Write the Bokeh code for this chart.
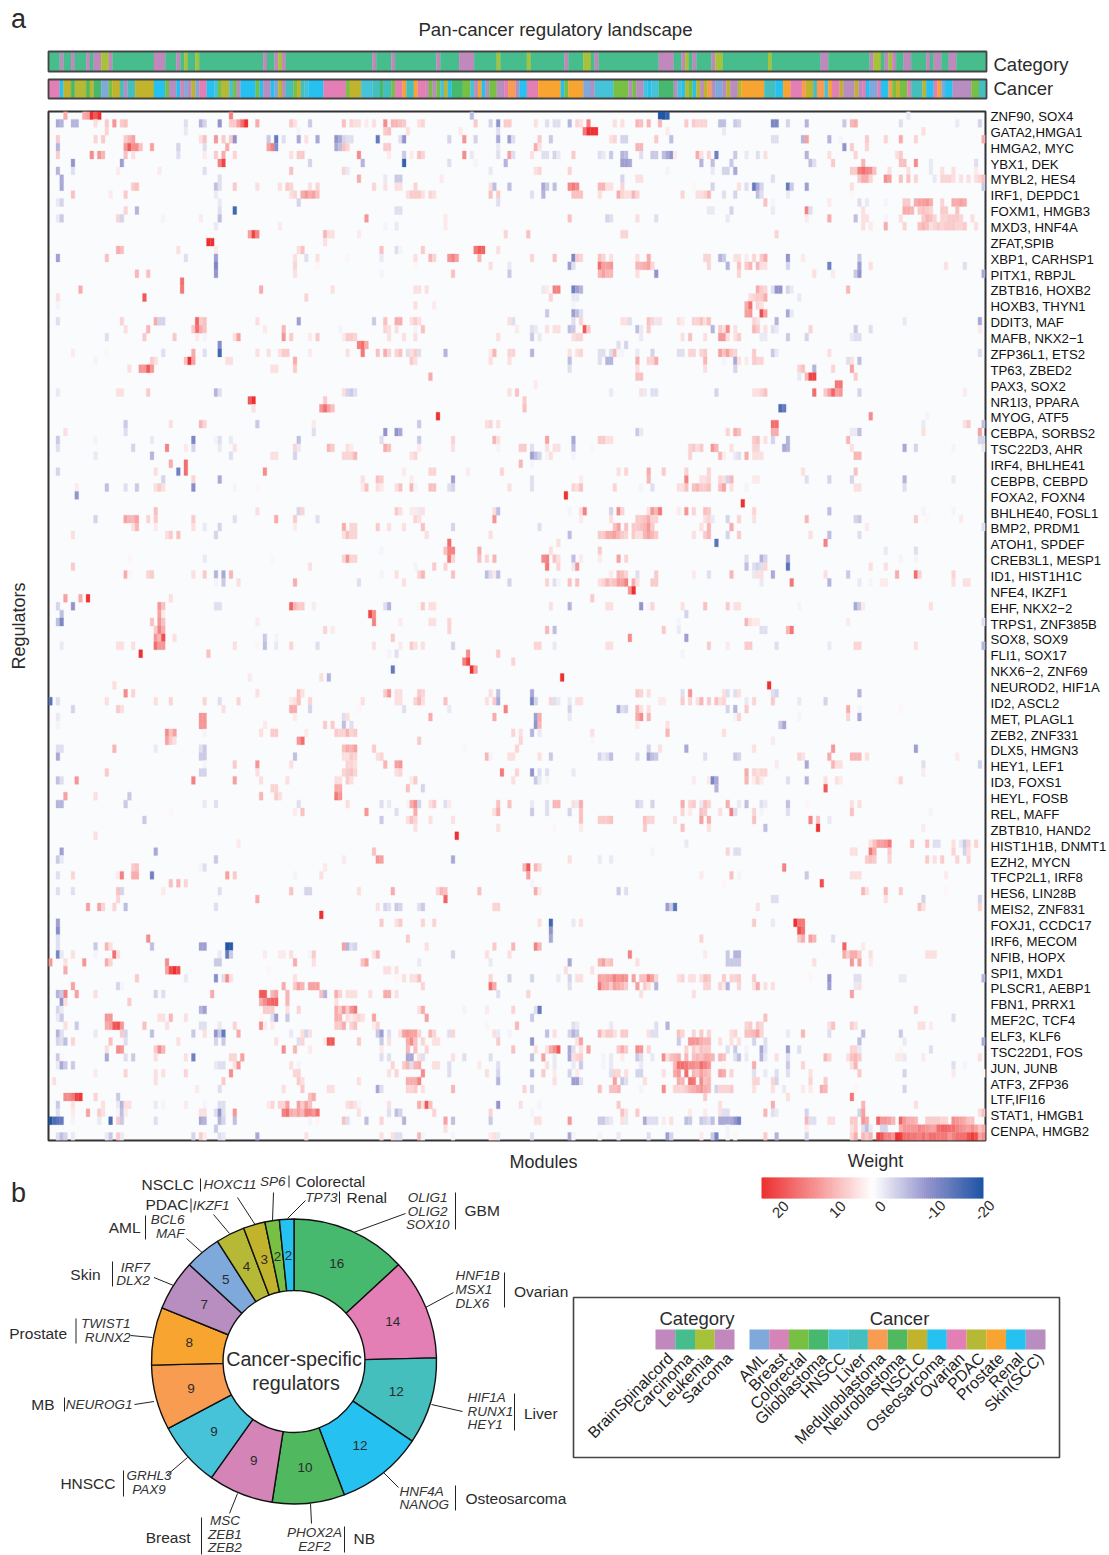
import math
from itertools import groupby
import numpy as np
from bokeh.core.properties import value
from bokeh.embed import file_html
from bokeh.layouts import column
from bokeh.models import ColumnDataSource, FixedTicker, LinearAxis, LinearColorMapper, Range1d
from bokeh.plotting import figure
from bokeh.resources import INLINE

FONT = "Liberation Sans"
INK = "#2b2b2b"
N_COLS, N_ROWS = 249, 130

regulator_labels = ["ZNF90, SOX4","GATA2,HMGA1","HMGA2, MYC","YBX1, DEK","MYBL2, HES4","IRF1, DEPDC1","FOXM1, HMGB3","MXD3, HNF4A","ZFAT,SPIB","XBP1, CARHSP1","PITX1, RBPJL","ZBTB16, HOXB2","HOXB3, THYN1","DDIT3, MAF","MAFB, NKX2−1","ZFP36L1, ETS2","TP63, ZBED2","PAX3, SOX2","NR1I3, PPARA","MYOG, ATF5","CEBPA, SORBS2","TSC22D3, AHR","IRF4, BHLHE41","CEBPB, CEBPD","FOXA2, FOXN4","BHLHE40, FOSL1","BMP2, PRDM1","ATOH1, SPDEF","CREB3L1, MESP1","ID1, HIST1H1C","NFE4, IKZF1","EHF, NKX2−2","TRPS1, ZNF385B","SOX8, SOX9","FLI1, SOX17","NKX6−2, ZNF69","NEUROD2, HIF1A","ID2, ASCL2","MET, PLAGL1","ZEB2, ZNF331","DLX5, HMGN3","HEY1, LEF1","ID3, FOXS1","HEYL, FOSB","REL, MAFF","ZBTB10, HAND2","HIST1H1B, DNMT1","EZH2, MYCN","TFCP2L1, IRF8","HES6, LIN28B","MEIS2, ZNF831","FOXJ1, CCDC17","IRF6, MECOM","NFIB, HOPX","SPI1, MXD1","PLSCR1, AEBP1","FBN1, PRRX1","MEF2C, TCF4","ELF3, KLF6","TSC22D1, FOS","JUN, JUNB","ATF3, ZFP36","LTF,IFI16","STAT1, HMGB1","CENPA, HMGB2"]

category_names = ["BrainSpinalcord","Carcinoma","Leukemia","Sarcoma"]
category_colors = ["#C088BC","#47BC8C","#A6C23B","#C088BC"]
cancer_names = ["AML","Breast","Colorectal","Glioblastoma","HNSCC","Liver","Medulloblastoma","Neuroblastoma","NSCLC","Osteosarcoma","Ovarian","PDAC","Prostate","Renal","Skin(SCC)"]
cancer_colors = ["#7FA8DB","#D484B6","#77C044","#47B96F","#47C3D9","#45BFBE","#F89C52","#50B960","#C2B32C","#25C1F1","#E37FB5","#B6B935","#F8A430","#25C1F1","#B88DBF"]

brain_sarcoma_cols = [3,6,10,12,13,16,28,29,30,34,57,60,62,86,91,103,109,110,111,112,137,145,162,163,164,165,168,171,176,205,206,218,222,224,227,228,233,235,236,239,240]
leukemia_cols = [14,15,36,39,61,119,127,142,143,169,177,178,191,219,220,223]

cancer_runs = [("Ovarian",3),("Osteosarcoma",1),("NSCLC",2),("Glioblastoma",1),("PDAC",3),("Neuroblastoma",1),("NSCLC",1),("Glioblastoma",2),("AML",2),("Colorectal",1),("NSCLC",2),("Liver",1),("Skin(SCC)",1),("Liver",2),("NSCLC",5),("Osteosarcoma",3),("Colorectal",1),("Skin(SCC)",2),("Osteosarcoma",1),("Breast",1),("AML",1),("Skin(SCC)",1),("NSCLC",1),("AML",1),("Ovarian",2),("Osteosarcoma",2),("HNSCC",1),("Colorectal",1),("PDAC",2),("HNSCC",1),("Colorectal",1),("Skin(SCC)",1),("Osteosarcoma",4),("Colorectal",1),("Osteosarcoma",1),("Skin(SCC)",2),("Renal",1),("AML",1),("NSCLC",1),("Skin(SCC)",1),("Liver",2),("Colorectal",1),("NSCLC",1),("Liver",1),("HNSCC",1),("Renal",4),("Ovarian",6),("Colorectal",1),("NSCLC",3),("HNSCC",3),("Liver",2),("Glioblastoma",1),("Liver",2),("Colorectal",1),("Ovarian",2),("Prostate",1),("Liver",2),("Prostate",1),("Ovarian",2),("Breast",1),("Colorectal",1),("Skin(SCC)",1),("Colorectal",1),("HNSCC",1),("NSCLC",1),("Osteosarcoma",1),("Glioblastoma",3),("Colorectal",2),("HNSCC",1),("Skin(SCC)",1),("Prostate",1),("Renal",1),("Skin(SCC)",1),("Colorectal",2),("Skin(SCC)",2),("Ovarian",1),("Medulloblastoma",2),("Skin(SCC)",1),("Osteosarcoma",2),("Ovarian",3),("Prostate",6),("Renal",1),("Colorectal",1),("Prostate",4),("AML",2),("Skin(SCC)",1),("HNSCC",5),("Colorectal",4),("Skin(SCC)",1),("Colorectal",1),("Skin(SCC)",2),("HNSCC",1),("Renal",1),("HNSCC",2),("Glioblastoma",4),("Skin(SCC)",1),("HNSCC",1),("Renal",1),("PDAC",1),("Colorectal",1),("Renal",1),("NSCLC",1),("Skin(SCC)",1),("NSCLC",1),("Medulloblastoma",1),("Skin(SCC)",1),("AML",2),("Skin(SCC)",1),("NSCLC",1),("Skin(SCC)",2),("PDAC",1),("Prostate",6),("Liver",3),("Renal",2),("Prostate",2),("Ovarian",3),("Medulloblastoma",1),("NSCLC",2),("Liver",1),("Medulloblastoma",2),("HNSCC",1),("Prostate",1),("Ovarian",2),("NSCLC",1),("Skin(SCC)",3),("NSCLC",1),("Skin(SCC)",1),("Ovarian",1),("Renal",1),("AML",2),("Ovarian",1),("Renal",2),("Medulloblastoma",1),("Colorectal",1),("NSCLC",1),("Colorectal",2),("Ovarian",1),("Liver",3),("NSCLC",1),("Renal",2),("Ovarian",1),("Prostate",1),("AML",1),("Renal",2),("Skin(SCC)",5),("Colorectal",2),("Liver",2)]

# heatmap weights, one string per regulator row: "column:weight"
weight_rows = [
"4:8 9:8 10:9 11:20 12:16 13:20 48:12 112:-6 162:-20 163:-20 164:-18 228:-2",
"2:-8 3:-7 6:-7 7:-7 12:3 15:5 17:10 19:5 20:6 36:-3 40:-7 41:-4 45:-10 48:5 49:5 50:9 51:14 52:20 55:8 64:5 65:3 69:-5 78:6 80:4 81:3 82:3 84:2 86:3 89:11 91:7 92:7 93:6 94:5 98:3 99:4 113:5 117:-4 119:-10 121:5 122:5 129:3 132:-3 134:-3 135:-3 138:-7 140:4 141:3 143:12 150:3 152:3 156:7 157:6 159:7 162:7 169:5 171:5 172:4 173:4 174:4 178:-6 179:-6 182:-5 183:-4 192:-12 193:-12 196:-4 201:-7 211:-5 213:7 214:8 226:-3 241:-2 247:-4",
"15:4 36:-2 66:-1 89:5 90:6 95:3 109:2 119:-3 142:13 143:20 144:20 145:20 164:2 179:-2 232:3",
"2:5 12:4 14:5 20:5 21:7 22:9 40:3 41:6 44:10 46:5 48:5 49:-10 58:-5 60:-14 62:-3 66:-8 68:3 71:-8 76:-10 77:-8 78:-4 79:-3 80:-3 87:-14 93:-3 94:-10 106:-4 110:10 113:-4 119:-8 122:-9 123:-3 130:5 133:-5 149:3 150:4 152:-4 153:-4 161:5 165:-6 192:-3 193:-3 200:-7 201:9 207:-7 210:-1 217:5 222:4 226:8 230:4 248:8",
"2:-7 20:10 21:16 22:11 23:11 24:6 27:9 34:-4 41:-3 47:8 58:9 59:12 60:-11 76:-8 77:-6 78:6 79:4 89:5 90:5 119:-2 129:8 130:3 156:7 157:7 211:-10 213:5 217:4",
"2:5 11:11 13:10 14:7 20:6 22:3 34:-3 41:2 44:5 46:8 49:4 64:3 66:5 67:5 82:11 90:2 94:-5 96:2 98:6 99:4 110:11 112:-2 119:-3 122:9 123:-3 128:3 131:-3 132:-3 134:-4 135:-2 139:5 146:-3 147:-2 149:-5 152:-7 153:-6 157:-3 160:-5 161:-5 163:-6 164:-8 165:-10 166:2 172:8 173:3 175:4 177:-13 182:-5 185:-2 188:-3 190:3 201:-7 207:3 214:4 225:3 226:5",
"6:-10 19:-9 45:12 46:18 69:-4 83:-7 94:-18 106:-3 113:-1 121:-7 152:-9 153:-9 154:-8 173:-7 176:-6 181:-5 202:-6 203:-3 208:5 216:7 226:6 227:6 230:11 234:-2 246:-3",
"2:-7 6:-3 18:2 29:2 41:-3 64:6 78:4 79:-2 117:-2 129:3 130:4 138:4 164:-1 176:-2 179:-4 180:-4 182:-8 213:5 214:5 215:12 216:14 217:12 218:11 219:6 223:3 228:3 234:-2 237:3 240:3 246:2",
"3:-8 45:-3 82:8 89:-2 92:-5 93:-5 104:2 152:-4 156:3 157:3 192:-3 215:5 216:8 217:8 218:4 222:11 223:9 226:6 228:6 230:4 235:-2 237:4 238:4 239:4 240:3 242:3 244:3 246:3 247:4 248:6",
"3:-8 22:5 23:6 44:-6 45:-3 49:5 55:3 61:3 63:5 64:4 69:3 71:4 86:4 89:3 92:3 93:3 97:4 117:3 118:-6 122:-6 131:-8 132:-5 134:-6 138:11 139:13 140:11 146:7 147:7 148:3 149:3 152:4 171:1 176:-4 183:3 185:-3 187:-14 188:-8 189:-4 196:-14 197:-5 201:-9 213:3 248:-5",
"6:6 16:2 20:5 44:-2 64:3 65:4 67:8 68:10 69:8 70:9 71:6 95:3 96:5 97:5 98:5 99:3 101:4 102:3 117:6 119:5 128:-3 131:-7 139:6 140:6 141:6 146:3 151:8 152:4 153:3 154:3 155:7 156:4 168:4 172:3 173:3 174:4 175:7 179:-3 182:-4 188:-6 189:-3 196:-2 213:1",
"2:-2 3:-4 45:-2 66:-4 119:-3 190:6 192:-1 207:2 215:-3 217:-2 222:-1 227:5 228:5 230:8 231:9 232:9 233:10 234:8 237:4 240:8 241:8 242:9 243:8",
"20:4 23:-7 45:-3 49:-17 92:-3 93:-3 175:-2 176:-2 181:-4 192:-2 201:12 202:-3 216:3 227:8 228:8 229:7 231:5 232:6 233:5 234:4 237:5 238:5 241:6",
"2:-2 3:-5 18:4 19:-4 30:-1 40:2 45:-6 84:10 105:2 138:6 148:-4 149:-3 156:3 161:-3 180:-2 201:2 207:8 214:-6 216:3 217:3 222:-1 226:3 232:5 233:7 234:6 235:4 237:4 238:4 239:5 240:5 241:5 242:4 245:3",
"44:-2 61:2 89:-1 92:-2 105:2 216:3 218:2 222:8 227:4 231:6 232:7 233:6 234:3 235:4 236:5 237:4 238:5 239:5 240:5 241:4 242:4 243:5 246:3",
"53:9 54:18 55:12 73:7 74:3 75:3 82:2 121:4 127:6 152:4 153:4 193:4",
"42:20 43:20 73:3",
"18:8 19:6 34:3 44:2 66:3 67:6 88:6 92:-3 93:-1 99:5 113:13 114:16 115:15 119:3",
"2:-9 15:6 36:-3 44:-9 65:3 68:-3 71:3 79:1 88:-2 97:3 101:7 102:4 106:10 107:12 108:9 114:7 128:4 134:6 139:-12 140:5 141:4 146:6 147:4 149:3 156:3 159:8 174:4 175:4 178:-7 179:-5 182:3 183:3 185:2 187:4 189:5 190:8 196:-10 200:2 215:-5",
"44:-12 65:4 71:1 97:1 117:3 122:-2 138:-9 139:-3 146:14 147:9 148:9 149:10 156:7 157:7 158:8 159:9 160:4 175:4 180:-7 183:6 185:5 186:7 188:7 189:3 190:3 196:-4 207:-13 215:-9 218:3 238:3 243:-3",
"23:7 26:6 44:-10 65:3 88:-1 107:6 122:-5 146:7 147:9 148:7 149:7 156:3 161:-10 183:4 203:3 208:2 214:-5 215:-10 248:-8",
"35:14",
"8:8 35:13 56:8 75:3 97:3 98:3 100:3 131:-2 132:2 134:12 135:12 139:-13 140:-9 141:-7 188:8 189:5 190:4 192:-3 193:-10 194:-10 196:-4 197:-2 212:7",
"2:3 25:16 68:4 133:4 139:-2 140:-2 186:3 187:4 188:5 189:5 190:8 199:-2",
"2:-1 97:3 102:2 139:-1 185:8 186:14 188:4 189:3",
"132:-5 139:-9 140:-6 141:-3 185:9 186:10 189:17 190:9 196:-8 197:-2",
"2:-3 19:4 28:8 29:-4 30:-4 39:15 40:5 41:6 55:3 66:-9 86:-5 89:6 92:8 93:8 96:3 97:5 98:3 122:3 123:-3 139:-3 141:4 152:3 153:3 154:-3 159:6 160:4 161:-2 162:3 167:3 168:2 171:4 172:4 173:6 174:3 175:6 187:4 188:3 193:-7 227:-2 247:-8",
"20:3 26:7 38:5 39:14 40:8 41:6 57:2 62:7 77:-1 89:4 90:3 92:3 97:-1 99:6 124:2 128:-3 129:-2 132:3 134:3 135:3 138:-6 139:-5 142:16 143:5 156:-6 157:-2 159:5 176:-7 178:5 179:3 180:11 182:3 187:7 188:5 190:3 192:-3 193:-2 202:4 214:-5 218:-3 247:2",
"15:-3 25:5 33:5 39:2 41:-1 49:3 50:9 62:10 64:5 69:2 71:5 78:2 79:5 80:5 81:4 90:3 94:3 97:3 119:3 128:-5 130:-2 139:3 140:4 141:4 157:-2 168:3 170:6 174:3 178:10 179:10 180:3 182:3 183:5 189:-2 190:-2 196:-5 201:-4 213:-2 214:-3 215:-3",
"45:-11 82:12 83:14 84:8 151:-3 153:-4",
"6:2 15:1 30:-3 38:8 41:-3 45:-17 55:3 58:3 61:3 62:5 63:5 69:2 79:3 83:13 87:6 89:8 90:4 92:4 93:6 95:-3 96:3 97:5 98:-3 105:-7 117:2 118:7 122:4 123:4 128:-7 138:3 140:3 141:4 146:-3 147:-3 149:-3 150:7 151:-1 152:-1 156:-2 160:-4 167:-3 168:-3 170:4 171:4 173:4 174:5 178:9 179:6 180:9 181:5 182:4 187:5 192:-5 193:-2 207:3 247:-3",
"12:-1 27:5 28:3 36:6 37:20 38:9 47:3 48:3 65:8 96:5 97:3 117:3 122:3 138:-6 146:-3 148:-7 149:-7 156:8 159:4 160:4 161:8 174:7 179:-1 182:-8 183:3 185:2 187:5 188:4 189:4 212:-3 213:3 215:-6",
"21:3 24:10 25:10 26:16 27:10 59:3 60:3 65:5 138:-3 156:3 174:3 182:-4 199:4 200:6 203:-7 208:4 213:9",
"101:8 156:6 157:6 199:-2 201:7 202:18 203:18 214:5",
"129:2 209:13 210:13",
"2:-2 18:3 19:3 26:5 44:-7 45:-3 78:3 79:-4 80:-5 81:-3 122:3 124:6 149:-2 157:3 158:-2 160:-3 161:-3 177:-4 187:3 188:3 189:4 190:6 203:14 206:5 207:9 208:15 209:9 210:10 215:-4 243:2",
"53:16 54:20 73:5 126:5",
"54:3 72:10 73:14 74:9 75:6 126:6 194:-16 195:-14",
"103:20 218:11 233:-1",
"20:-5 32:3 40:7 41:4 55:-5 70:2 98:-5 116:3 117:4 119:3 192:14 193:14 232:-2 243:3 244:5 248:-6",
"4:3 20:-3 70:-3 89:-10 92:-10 93:-8 156:-5 157:-2 180:4 182:8 183:6 192:8 193:8 213:-2 214:-2 215:-6 232:3 247:9",
"2:-5 12:-1 27:-2 38:-12 44:-1 45:-3 48:-2 66:-6 88:-3 98:-5 107:4 118:7 119:3 132:9 139:-8 146:5 147:5 148:3 149:3 187:5 188:6 190:3 192:-4 196:-7 212:7 247:-4 248:-4",
"2:-3 22:-4 31:12 36:2 38:-4 45:-2 49:3 65:4 66:-2 74:7 75:5 79:3 80:2 89:8 90:6 98:2 107:3 119:-1 125:5 126:5 128:-3 132:3 134:3 135:3 139:-6 144:1 170:4 171:5 172:3 173:5 176:10 177:7 181:3 187:4 188:4 195:-8 196:-7 213:3 227:-8 230:-4 240:-1 248:-2",
"12:-2 27:-7 48:-3 59:3 60:3 65:-4 78:4 79:4 80:4 81:7 96:3 97:4 128:-9 129:-6 130:-4 132:-1 133:3 139:-1 170:4 178:7 179:2 182:-2 183:-3 185:8 187:3 188:3 189:3 214:7 215:7",
"32:8 36:14 125:7 128:-1",
"2:-4 28:3 34:-13 36:14 57:11 94:2 101:4 102:4 111:2 120:4 151:3 153:4 159:8 163:5 169:4 175:4 200:3 214:6",
"30:-4 38:4 45:-8 83:3 87:6 88:5 96:2 107:-9 128:-3 141:2 159:7 169:12 173:3 174:3 175:4 178:4 179:3 180:-4 181:7 187:2 188:2 201:-3 207:-4 213:-4 227:-7 240:-2",
"7:2 15:-6 20:-3 23:-5 28:3 29:5 30:3 38:-11 49:-1 55:1 83:2 84:6 87:3 88:2 92:3 93:6 96:7 97:-1 101:6 102:6 106:-3 107:-4 122:3 128:-3 139:4 140:3 141:6 150:4 157:-1 160:-3 167:3 168:3 169:6 171:6 172:7 173:5 174:5 175:6 178:6 179:9 181:3 185:-1 214:3 215:3 227:-3",
"7:-10 137:20",
"184:20",
"28:6 55:3 66:-4 67:4 92:5 93:3 96:2 97:2 98:-2 99:3 118:3 119:-6 138:-1 141:3 142:12 149:-4 151:11 152:4 159:3 160:10 161:7 162:13 167:2 169:10 171:4 174:6 175:5 187:4 207:-6 232:-1 240:-1",
"12:-4 20:9 21:7 22:7 23:9 26:4 28:5 38:5 49:-3 60:8 65:5 71:-3 97:4 98:3 118:10 141:2 149:3 156:5 157:5 158:6 159:8 160:4 161:4 174:3 175:4 176:-2 180:-4 183:4 187:3 201:7 214:-4 215:-5 230:5 233:1 242:2",
"22:3 23:7 28:2 38:3 41:-2 45:-4 65:2 78:8 80:4 81:4 87:5 90:3 94:3 99:6 107:-4 130:-3 150:6 151:9 153:6 155:5 156:5 157:6 158:7 159:10 160:5 173:3 175:7 181:8 217:2 248:-3",
"6:3 31:3 32:5 34:6 44:-4 78:3 79:6 80:4 81:4 100:3 117:3 138:-6 146:5 147:5 148:8 149:8 150:9 151:7 152:5 153:4 155:5 156:3 157:3 158:7 159:9 160:7 161:5 171:3 174:5 175:7 180:-4 183:5 202:3 207:-6 215:-3",
"106:14 135:3 177:-15 206:12",
"88:-1 105:6 106:12 107:12 114:8 133:3 146:5 222:-2 230:-3",
"21:1 41:-2 59:1 78:4 79:10 80:4 81:4 106:13 107:4 114:6 116:4 118:7 131:11 132:12 134:6 135:3 139:-6 141:2 146:2 151:9 153:4 185:-3 189:-7 190:-4 196:-8 226:-1 230:-1",
"6:5 69:3 97:-1 102:5 105:4 132:13 135:4 139:-2 140:10 185:-6 187:-3 188:-4 189:-3 190:4 196:-15 218:3 222:3",
"20:8 21:1 26:4 27:5 38:3 41:5 44:-7 46:-8 48:7 88:-1 92:3 98:4 99:7 107:6 116:-6 117:-3 118:2 119:-6 149:2 151:7 152:6 153:4 156:-3 161:5 171:2 175:-3 181:7 187:-2 188:3 189:3 192:-8 206:3 212:-5 225:8 230:14 231:4 240:4",
"44:-1 46:-5 50:3 65:8 82:-3 94:3 122:-4 132:4 134:-3 135:-1 138:6 140:6 146:3 147:4 148:7 149:5 150:6 151:9 152:9 153:12 155:8 156:3 160:5 161:5 189:-2 197:13 207:-7 215:-2 218:-1 221:2 222:2 240:3 243:3 244:3",
"154:10 155:20",
"4:9 8:8 10:20 32:3 144:5",
"2:-4 6:-10 29:10 30:6 44:-3 45:-3 64:15 65:7 66:5 67:5 70:2 89:-3 90:-7 98:1 99:5 101:3 102:3 133:3 138:-7 148:3 149:3 157:-10 159:-1 160:4 168:3 174:6 180:5 182:3 183:3 199:-1 214:-8 215:-5 216:2 234:3",
"3:-6 29:9 30:2 85:18 86:11 169:-4",
"2:-6 3:-12 27:6 29:10 30:6 55:2 86:12 93:2 101:3 102:3 106:4 167:-1 185:7 186:3 187:2 188:2 212:2 248:-3",
"28:5 29:12 30:8 73:4 75:2 106:4 132:7 134:-6 163:5 167:-2 189:-3 190:-3 196:7 197:13",
"28:10 29:7 30:17 33:3 57:-5 60:-1 91:5 154:11 169:-9",
"3:-2 18:3 19:3 22:3 28:14 29:10 30:10 49:3 55:1 57:-6 60:-2 64:4 71:-3 86:3 93:2 96:5 97:3 99:3 107:-4 129:4 130:4 134:-2 148:3 149:3 175:5 180:2 185:5 186:5 193:-3 207:-2 214:4 215:4 230:3 248:-7",
"24:20 42:6 90:-1 92:-3 111:11 119:5 168:-1",
"110:12 111:18 123:4",
"91:-14 112:20 113:9",
"53:2 72:3 74:-7 136:20",
"17:3 191:20",
"20:11 22:4 55:3 66:6 67:3 89:5 90:10 92:3 93:3 98:5 99:4 117:3 119:-6 128:-8 156:5 157:4 159:3 168:-3 170:10 179:3 180:-3 182:-3 183:3 192:-3 193:-4 215:-7",
"0:-15 2:-3 15:3 28:3 32:4 41:4 45:-3 50:4 64:2 65:3 66:6 69:4 83:3 92:3 93:3 97:4 98:7 99:3 105:6 116:3 118:5 119:-8 128:-12 129:-4 133:4 134:-3 135:-2 138:-2 140:3 141:3 162:2 163:2 168:5 170:4 172:3 173:7 175:5 177:6 178:3 179:4 185:-2 187:4 192:5 199:-2 206:-4",
"6:-4 18:5 19:3 46:3 64:8 65:8 69:-4 82:1 94:-3 106:-2 121:12 138:-4 151:-8 152:-3 153:-4 156:7 157:3 159:3 180:-4 182:-7 185:5 212:8 215:-1 226:1",
"2:-2 40:10 41:10 65:2 78:-3 79:3 101:8 118:8 129:-9 130:8 138:-2 156:8 157:11 159:7 182:-1 183:4 199:-1 212:4 215:-8",
"2:-1 40:10 41:10 57:2 73:5 75:5 78:-6 80:-3 129:-10 130:7 156:2 164:3 194:-5 195:-8",
"31:11 32:6 33:9 41:-1 56:3 59:5 60:5 68:2 76:5 77:4 78:4 79:7 80:4 81:5 123:4 125:3 128:-7 130:-2 144:3 164:7 179:3",
"31:9 32:5 33:3 66:10 67:14 98:5 125:4 144:1 192:2",
"2:-3 3:-3 17:7 28:-2 40:-3 41:-5 78:6 79:8 80:7 81:9 86:5 110:1 124:4 159:-4 162:3 169:-8 187:3 208:10 230:-9",
"2:-8 40:-5 41:-5 65:-6 78:3 79:3 80:5 81:4 87:3 88:4 116:7 117:-1 122:3 123:3 130:3 133:-5 146:-4 147:-2 148:-3 149:-6 156:-3 159:-9 160:-6 161:-5 174:-3 182:-5 183:-4 199:4 200:3 207:8 213:7 214:7 215:7 217:3 241:2",
"41:-1 49:5 55:10 64:3 79:4 80:4 81:3 89:7 92:9 93:10 193:2 201:-8 208:7 209:3 210:3 232:-3 247:-4",
"15:5 40:-4 41:-4 55:3 78:4 79:5 80:6 81:4 92:3 93:4 120:13 124:4 128:-10 130:-3 132:-3 139:-2 185:8 187:4 188:3 189:4 190:4 232:2",
"2:-6 3:-3 7:10 38:12 49:9 56:3 63:3 76:3 77:3 79:5 80:3 96:2 97:5 123:3 129:-5 130:-2 132:-1 171:2 175:2 176:-12 177:-8 185:7 187:2 188:4 189:2 196:-3 201:-7 206:3 209:3 210:2 225:1 226:4",
"59:4 60:4 76:8 77:8 95:6 99:-4 177:-7 206:16",
"4:9 12:3 21:-5 56:7 60:5 61:3 76:13 77:10",
"2:-7 3:-7 20:-5 41:-2 44:-3 66:-3 79:3 88:-3 90:-2 95:-1 96:8 97:11 98:-4 101:3 102:5 105:-3 106:2 119:6 122:6 128:-2 132:-3 134:7 135:7 139:3 140:-2 141:8 156:-4 157:-3 160:-4 168:8 170:4 171:5 173:-2 174:6 175:4 180:8 183:-2 185:-6 189:-3 190:-2 196:-6 201:1 213:3 215:3",
"32:1 65:2 67:6 84:10 92:-3 97:8 118:3 119:8 128:-5 132:-3 138:-4 141:6 168:4 170:2 173:6 174:5 178:3 181:12 182:-3 187:4 189:-1 196:-3 213:6 234:-1",
"25:-5 88:-5 95:3 96:6 97:4 101:3 107:3 141:6 146:5 147:5 148:5 149:6 158:6 159:4 160:4 166:3 173:9 175:8 187:6 202:12 204:6 207:-2",
"97:3 119:3 134:1 141:2 158:5 168:6 175:3 190:-6 204:20 232:2",
"12:3 108:20",
"50:2 169:-2 218:3 219:6 220:9 221:9 222:10 223:13 229:6 233:6 235:-3 236:-3 240:3 242:-2 243:-5 244:4 246:4",
"3:-9 28:-8 86:6 160:-1 180:4 182:-3 183:-3 213:3 214:3 218:13 219:8 223:5 240:4 243:-4 244:3",
"2:-5 3:-2 44:-5 78:2 87:10 88:9 107:-8 138:3 146:-2 149:-2 217:5 218:6 219:5 223:4 233:5 235:3 237:5 241:4 244:4",
"22:5 23:6 40:-1 41:-3 73:2 126:7 127:16 129:7 130:4 195:12",
"2:-3 6:4 18:2 19:12 22:8 23:8 27:-13 47:9 49:5 65:-1 72:3 127:9 173:2 181:6 183:-1 201:-5 213:3 214:3 215:3 238:2",
"32:6 34:7 36:4 128:-1 179:1 205:17",
"2:-3 6:-3 18:6 19:-4 30:2 45:-3 64:6 68:-4 69:-4 82:3 91:8 103:4 104:7 105:6 114:6 129:8 130:2 151:-5 153:-3 216:7 217:3 222:7 226:5 238:1",
"18:4 55:8 105:15 192:-3 193:-3 222:3 232:-4 247:-4",
"10:9 13:9 14:4 17:4 20:-6 44:-3 87:3 89:-4 90:-3 92:-5 93:-4 98:-3 99:-5 118:4 119:4 164:-9 165:-5 166:-15 188:3 231:6 232:3 247:4",
"72:20",
"2:-9 88:5 92:3 93:5 99:4 102:4 130:3 133:-17 139:-2 141:3 187:5 192:-2 198:20 199:13 200:13",
"2:-11 133:-10 199:17 200:14",
"2:-3 26:11 95:5 133:-8 173:4 199:5 200:8 202:9 203:7 208:-3",
"2:-3 12:-5 15:7 16:3 27:-6 40:-9 41:-9 47:-20 48:-19 78:9 79:-7 80:-3 81:-4 100:3 118:5 123:7 129:12 130:7 211:15 216:2",
"2:-12 3:-2 6:3 12:-1 17:14 18:3 45:-2 47:-14 48:-5 57:2 61:2 62:2 64:3 69:-1 70:5 86:3 87:7 107:-4 116:3 122:3 154:12 174:2 180:-5 182:-7 183:-7 211:8 212:5 213:8 214:8 215:5 218:3 233:3 234:3 235:3",
"0:10 4:3 9:10 15:8 16:4 31:11 44:-5 45:-5 65:8 70:3 83:6 84:9 98:-2 117:-2 138:-8 146:7 147:9 148:5 149:6 156:3 180:-5 181:-5 182:-5 183:-5 203:3 213:10 215:9 218:2",
"4:8 31:9 32:17 33:20 34:17 58:1 89:3 90:3 92:3 137:3 144:3",
"23:5 36:-2 44:-11 46:-3 47:11 48:3 65:3 92:1 94:3 96:3 97:3 98:6 117:4 122:-4 128:-4 135:-2 138:-4 140:3 141:3 146:9 147:8 148:9 149:9 150:12 151:10 152:11 153:10 155:9 157:6 158:6 159:12 160:9 161:4 167:3 168:4 170:3 171:3 173:3 174:6 175:5 179:5 181:4 182:4 183:5 187:5 202:1 207:-10 214:-3 215:-3 226:-2 227:-2 248:-7",
"6:9 18:-4 19:-1 62:8 65:5 66:9 67:7 69:9 70:9 71:9 99:4 117:14 118:8 138:-3 146:13 147:8 148:8 149:5 150:9 151:8 152:7 153:5 156:9 158:5 159:3 161:-7 174:4 175:4 178:4 179:2 180:-7 183:4 187:3 188:8 190:3 192:3 207:-9 214:-2 215:3",
"2:-7 3:-5 4:12 7:9 12:3 28:-4 30:-3 43:8 56:16 57:16 59:7 60:9 63:7 72:6 73:-7 76:8 77:4 79:3 80:3 81:3 85:3 89:8 90:8 92:3 119:-3 127:4 157:3 171:3 213:9",
"3:-10 4:3 21:5 56:8 57:11 58:14 59:15 60:15 63:7 76:3",
"2:-4 3:-2 40:-7 41:-9 57:5 58:5 59:5 63:3 66:4 76:8 77:5 78:10 79:5 80:10 81:13 98:3 99:8 110:-1 116:2 123:4 129:-3 130:-14 230:4",
"2:-2 3:-5 15:10 16:10 29:3 30:3 32:7 36:3 56:1 59:-3 60:-9 63:-5 76:8 77:7 79:3 80:2 81:3 82:4 83:3 86:9 100:9 128:-5 190:6 240:-3",
"4:3 7:-5 15:8 16:9 17:16 18:17 19:10 25:6 31:3 40:-3 41:-3 45:-2 49:4 56:11 57:2 59:2 76:5 77:5 78:8 80:4 81:6 86:2 87:4 116:1 124:7 139:-3 140:-2 149:-2 161:-3 164:-7 185:4 186:5 188:5 189:4 207:3 208:6 213:5 214:3 231:3 232:3 234:2",
"2:-7 3:-3 12:-2 19:5 20:-4 27:-6 38:-5 41:3 44:-10 45:-5 46:-14 50:8 64:-2 67:3 68:-4 69:3 87:-5 88:-9 90:-3 93:3 94:9 95:10 96:9 97:9 98:4 101:7 102:4 106:-3 107:4 118:3 119:-2 122:-1 132:-6 134:3 138:-4 139:-7 140:-5 146:7 147:3 148:5 149:5 150:3 152:5 153:5 159:3 160:-3 161:-3 167:6 168:4 171:4 173:5 175:4 181:3 182:4 185:6 186:6 187:7 188:9 189:4 196:-2 200:7 207:-3 216:-6 226:-5",
"2:-4 3:-3 4:-6 6:4 16:6 20:-3 34:3 44:-4 46:-5 60:3 66:-3 67:4 73:2 74:16 75:16 82:5 88:-5 90:3 95:8 96:11 97:6 99:4 102:3 103:3 119:5 128:-10 140:3 141:9 167:-5 170:10 171:10 172:10 173:8 174:7 175:7 178:3 181:3 183:3 187:-4 190:-3 215:-6 227:-2 248:-8",
"15:3 18:11 19:10 28:5 29:11 30:7 62:11 65:7 69:2 88:2 95:7 97:6 100:4 123:6 129:3 132:3 133:8 134:11 135:16 138:-8 139:-3 141:3 143:9 151:5 152:8 153:5 156:11 157:10 159:4 169:4 171:5 172:3 173:6 174:5 175:5 180:-3 182:-5 185:-1 189:-8 190:-3 196:-9 199:-3 213:4 214:4 215:-2 226:1 234:-3",
"2:-5 3:1 15:-8 20:-3 22:-5 28:3 36:3 38:-13 48:4 49:4 51:9 88:-3 90:-3 95:-8 96:-8 98:3 99:-3 107:3 110:-3 117:-3 128:-6 131:9 134:-2 138:-8 139:3 140:4 141:5 147:-1 149:-2 152:2 156:-5 157:-3 160:-2 163:11 164:3 165:6 166:7 167:8 169:7 171:6 172:7 173:6 174:8 175:8 176:7 178:7 179:6 182:-3 183:-6 185:-2 189:-7 190:-2 193:3 196:-3 206:7 207:4 212:3 213:6 214:7 215:5 225:2 226:2 227:-2 232:2 247:3",
"2:-2 3:-8 4:-5 6:-5 44:-2 45:-3 46:-3 49:3 50:10 64:3 66:-1 91:4 94:5 95:7 96:-3 97:7 98:8 102:3 103:3 106:-3 114:2 119:-3 132:3 134:-2 139:-2 141:-5 147:-1 149:-2 157:-2 166:7 167:14 168:14 169:13 170:11 171:11 172:10 173:14 174:12 175:10 179:1 187:8 196:-5 200:4 213:3 214:7 240:-3 243:-1",
"12:2 20:4 28:3 30:3 36:4 48:11 65:4 66:4 90:3 92:4 99:11 106:-3 116:3 119:-4 128:-7 131:5 134:2 138:-4 140:2 149:-3 150:4 151:4 153:3 156:-4 157:-4 163:3 166:8 167:10 169:14 171:7 172:6 173:9 174:7 175:6 178:9 179:8 181:4 187:-3 190:-2 193:-3 196:-3 202:3 215:5 227:-4 240:2 248:1",
"1:3 28:3 46:5 66:5 67:3 82:3 95:8 96:8 97:8 98:12 119:-7 134:3 139:-9 140:-9 141:-3 150:9 152:-5 153:-3 158:3 167:8 168:7 170:14 171:13 173:11 174:6 175:7 187:4 188:4 192:4 193:-4 202:4 206:5",
"39:2 45:-3 62:3 67:5 74:3 75:3 87:-8 88:-3 95:4 96:4 97:5 99:3 107:7 126:4 128:-4 146:6 149:6 150:6 151:7 157:-1 163:11 166:4 167:4 168:4 169:5 170:7 171:8 172:9 173:10 174:8 175:7 177:-4 178:4 179:4 180:4 181:5 187:3 192:3 195:-2 200:2 202:2 205:8 206:7 214:1 227:-4",
"4:11 5:11 6:13 7:18 8:19 12:4 18:-5 69:6 70:8 174:5 196:3 213:13",
"2:-5 6:3 14:3 18:-2 19:-7 20:3 21:3 28:-2 30:-1 36:2 41:-1 45:-3 46:-3 58:2 59:4 61:4 62:4 63:9 66:9 67:5 68:9 69:6 79:3 80:4 81:3 82:-1 90:3 98:8 99:3 100:16 101:6 119:-10 125:3 130:-1 151:5 178:3 192:8 216:7 230:3",
"2:-3 6:2 10:9 13:5 14:3 18:-1 19:-6 20:2 40:3 41:3 44:-3 45:-10 46:-3 49:10 62:12 63:14 64:8 65:7 66:9 67:7 68:12 69:12 70:10 71:14 82:3 90:-3 92:-6 93:-4 102:4 117:4 128:-1 152:6 153:3 156:5 170:2 174:2 178:3 179:-3 180:-3 190:7 192:-3 193:-2 201:-4 215:-4 216:9 247:3 248:6",
"0:-20 1:-16 2:-15 3:-14 6:-1 13:-2 16:-16 18:5 19:-5 28:-3 40:-8 41:-7 45:-7 46:-4 49:-6 69:-1 71:1 78:6 79:-3 84:-6 88:4 94:-7 105:9 107:-6 117:-5 129:3 130:3 138:10 146:-5 147:-5 148:-3 149:-2 152:3 153:-2 158:-8 159:-3 160:-3 161:-3 163:2 165:3 169:-6 170:-5 173:-5 174:-4 175:-3 176:-6 178:-8 179:-8 180:-8 181:-8 182:-10 183:-13 201:7 202:-3 203:-3 207:3 208:3 213:5 214:5 216:10 217:8 220:15 221:10 222:10 223:9 224:7 226:15 227:10 228:8 229:8 230:7 233:5 234:5 235:5 236:5 237:4 238:4 240:11 241:10 242:9 243:8 244:6 245:6",
"44:-5 105:3 180:-1 201:2 213:3 214:5 216:-3 217:-6 218:-2 221:-4 222:-4 226:8 227:10 228:10 229:10 230:10 231:12 232:11 233:10 234:9 235:9 236:14 237:15 238:15 239:14 240:14 241:12 242:11 243:10 244:9 245:11 246:9 247:6 248:8",
"2:-3 3:-6 4:-4 6:-2 15:-2 16:-5 18:5 19:-2 38:-4 40:5 41:2 45:-3 46:-2 55:-8 68:3 88:3 91:3 92:-3 93:-3 98:7 99:-1 107:-1 117:2 118:3 119:-2 128:-3 138:-8 139:-1 146:-1 151:-2 159:-3 164:-9 165:-4 173:2 176:-5 177:-12 180:-1 182:1 190:5 193:-7 201:-4 213:4 214:8 216:7 217:5 218:7 220:18 221:16 222:12 223:12 224:10 225:20 226:19 227:14 228:14 229:13 230:13 231:12 232:14 233:12 234:14 235:14 236:13 237:13 238:13 239:10 240:12 241:14 242:14 243:14 244:17 245:19 246:17 247:9 248:11",
]

donut_names = ["GBM","Ovarian","Liver","Osteosarcoma","NB","Breast","HNSCC","MB","Prostate","Skin","AML","PDAC","NSCLC","Colorectal","Renal"]
donut_counts = [16,14,12,12,10,9,9,9,8,7,5,4,3,2,2]
donut_colors = ["#47B96F","#E37FB5","#45BFBE","#25C1F1","#50B960","#D484B6","#47C3D9","#F89C52","#F8A430","#B88DBF","#7FA8DB","#B6B935","#C2B32C","#77C044","#25C1F1"]
weight_ticks = ["20","10","0","-10","-20"]


def ramp(stops, n):
    out = []
    for i in range(n):
        t = i / (n - 1) * (len(stops) - 1)
        k = min(int(t), len(stops) - 2)
        f = t - k
        rgb = [round(stops[k][j] + (stops[k + 1][j] - stops[k][j]) * f) for j in range(3)]
        out.append("#%02X%02X%02X" % tuple(rgb))
    return out


palette = ramp([(30, 85, 165), (148, 148, 205), (255, 255, 255), (246, 151, 151), (238, 48, 48)], 161)
mapper = LinearColorMapper(palette=palette, low=-20, high=20)


def put(p, x, y, text, size, align="left", italic=False, angle=0.0, color=INK):
    p.text(x=[x], y=[y], text=[text], text_font=value(FONT), text_font_size=f"{size}px",
           text_align=align, text_baseline="middle", angle=angle, text_color=color,
           text_font_style="italic" if italic else "normal")


CW = 938 / N_COLS
X = lambda px: (px - 48) / CW

# ---------- top: title and annotation strips
top = figure(width=1109, height=108, x_range=Range1d(X(0), X(1109)), y_range=Range1d(108, 0),
             toolbar_location=None, output_backend="svg", min_border=0, x_axis_location=None, y_axis_location=None)
top.grid.visible = False
top.outline_line_color = None
top.frame_align = False

category_of = ["Carcinoma"] * N_COLS
for c in brain_sarcoma_cols:
    category_of[c] = "BrainSpinalcord"
for c in leukemia_cols:
    category_of[c] = "Leukemia"
cat_color = dict(zip(category_names, category_colors))
cat_runs = [(k, len(list(g))) for k, g in groupby(category_of)]
cat_starts = np.cumsum([0] + [n for _, n in cat_runs])
cat_fill = [cat_color[n] for n, _ in cat_runs]
top.quad(left=cat_starts[:-1].tolist(), right=cat_starts[1:].tolist(), top=[51] * len(cat_runs), bottom=[71] * len(cat_runs),
         fill_color=cat_fill, line_color=cat_fill, line_width=0.3)

can_color = dict(zip(cancer_names, cancer_colors))
starts = np.cumsum([0] + [n for _, n in cancer_runs])
can_fill = [can_color[n] for n, _ in cancer_runs]
top.quad(left=starts[:-1].tolist(), right=starts[1:].tolist(), top=[79] * len(cancer_runs), bottom=[98] * len(cancer_runs),
         fill_color=can_fill, line_color=can_fill, line_width=0.3)
top.quad(left=[0, 0], right=[N_COLS, N_COLS], top=[51, 79], bottom=[71, 98], fill_color=None, line_color="#444444", line_width=1.8)

put(top, X(18), 18, "a", 27, "center")
put(top, X(555), 29, "Pan-cancer regulatory landscape", 18.7, "center")
put(top, X(993), 64, "Category", 18.5)
put(top, X(993), 88, "Cancer", 18.5)

# ---------- heatmap
heat = figure(width=1109, height=1035, x_range=Range1d(0, N_COLS), y_range=Range1d(N_ROWS, 0),
              toolbar_location=None, output_backend="svg", min_border_left=48, min_border_right=123,
              min_border_top=3, min_border_bottom=3, x_axis_location=None, y_axis_location=None,
              background_fill_color="#FAFBFD")
heat.grid.visible = False
heat.outline_line_color = "#333333"
heat.outline_line_width = 2
heat.frame_align = False

rows, cols, vals = [], [], []
for r, s in enumerate(weight_rows):
    for tok in s.split():
        c, v = tok.split(":")
        rows.append(r); cols.append(int(c)); vals.append(float(v))
src = ColumnDataSource(dict(l=cols, r=[c + 1 for c in cols], t=rows, b=[r + 1 for r in rows], v=vals))
heat.quad(left="l", right="r", top="t", bottom="b", source=src, line_width=0.3,
          line_color={"field": "v", "transform": mapper}, fill_color={"field": "v", "transform": mapper})

ticks = [round(0.63 + 2.004 * i, 3) for i in range(len(regulator_labels))]
right = LinearAxis(ticker=FixedTicker(ticks=ticks), major_label_overrides=dict(zip(ticks, regulator_labels)),
                   axis_line_color=None, major_tick_line_color=None, minor_tick_line_color=None,
                   major_tick_in=0, major_tick_out=0, minor_tick_in=0, minor_tick_out=0,
                   major_label_text_font=FONT, major_label_text_font_size="13.2px", major_label_text_color="#111111",
                   major_label_standoff=5)
heat.add_layout(right, "right")
left = LinearAxis(ticker=FixedTicker(ticks=[]), axis_line_color=None, major_tick_line_color=None, minor_tick_line_color=None,
                  major_label_text_font_size="0px", axis_label="Regulators", axis_label_text_font=FONT,
                  axis_label_text_font_size="18px", axis_label_text_font_style="normal", axis_label_text_color=INK,
                  axis_label_standoff=20)
heat.add_layout(left, "left")

# ---------- bottom panel, in page pixels
PY = lambda py: 1555 - py
bot = figure(width=1109, height=412, x_range=Range1d(0, 1109), y_range=Range1d(PY(1555), PY(1143)),
             toolbar_location=None, output_backend="svg", min_border=0, x_axis_location=None, y_axis_location=None)
bot.grid.visible = False
bot.outline_line_color = None
bot.frame_align = False

put(bot, 543, PY(1161), "Modules", 18, "center")
put(bot, 875, PY(1160), "Weight", 18, "center")
put(bot, 18, PY(1192), "b", 27, "center")

# colour bar
cb_vals = np.linspace(20, -20, 112)
cb_edges = np.linspace(761, 983, 113)
bot.quad(left=cb_edges[:-1], right=np.minimum(cb_edges[1:] + 1, 983), top=[PY(1177)] * 112, bottom=[PY(1198)] * 112, line_color=None,
         fill_color=[palette[int(round((v + 20) / 40 * 160))] for v in cb_vals])
for t, tx, ty in zip(weight_ticks, [780, 837, 880, 935, 984], [1209, 1209, 1206, 1210, 1210]):
    put(bot, tx, PY(ty), t, 15, "center", angle=math.pi / 4)

# donut
CX, CY, R0, R1 = 293.5, PY(1361), 71, 142.5
total = sum(donut_counts)
edges = np.cumsum([0] + donut_counts) / total * 2 * math.pi
bot.annular_wedge(x=[CX] * len(donut_counts), y=[CY] * len(donut_counts), inner_radius=R0, outer_radius=R1,
                  start_angle=(math.pi / 2 - edges[:-1]).tolist(), end_angle=(math.pi / 2 - edges[1:]).tolist(),
                  direction="clock", fill_color=donut_colors, line_color="#111111", line_width=1.4)
for n, a0, a1 in zip(donut_counts, edges[:-1], edges[1:]):
    m = (a0 + a1) / 2
    put(bot, CX + 106.5 * math.sin(m), CY + 106.5 * math.cos(m), str(n), 13.5, "center")
put(bot, CX, PY(1358), "Cancer-specific", 19.7, "center")
put(bot, CX + 2, PY(1382), "regulators", 19.7, "center")

# leaders: ((x0, y0), (x1, y1)); separators: (x, y0, y1)
leaders = [((353,1232),(405,1213)),((425,1307),(453,1292)),((431,1404),(462,1411)),((383,1472),(398,1487)),
           ((310,1503),(311,1523)),((237,1493),(229,1513)),((187,1457),(166,1475)),((153.5,1401),(134,1404)),
           ((152,1337),(130,1335)),((173,1285),(153.5,1277)),((201.6,1252),(186,1238)),((229,1233),(213,1214)),
           ((254.5,1224),(237,1197)),((272,1220),(273,1192)),((287,1218),(305,1200))]
seps = [(455,1192,1229),(504,1272,1307),(514,1393,1430),(455,1485,1510),(344,1526,1552),(201,1517,1554),(123,1470,1496),
        (64,1397,1411),(75.5,1318,1343),(112,1261,1286),(145,1215,1239),(190.5,1198,1212),(200,1178,1191),(288.5,1175,1187),(339,1191,1203)]
bot.segment(x0=[a[0] for a, _ in leaders], y0=[PY(a[1]) for a, _ in leaders], x1=[b[0] for _, b in leaders],
            y1=[PY(b[1]) for _, b in leaders], line_color="#222222", line_width=1)
bot.segment(x0=[s[0] for s in seps], y0=[PY(s[1]) for s in seps], x1=[s[0] for s in seps], y1=[PY(s[2]) for s in seps],
            line_color="#222222", line_width=1)

group_labels = [("GBM",464,1210,"left"),("Ovarian",513.5,1291,"left"),("Liver",523.5,1413,"left"),("Osteosarcoma",465,1498,"left"),
                ("NB",353,1538,"left"),("Breast",190,1537,"right"),("HNSCC",115,1483,"right"),("MB",54,1404,"right"),
                ("Prostate",66.5,1333,"right"),("Skin",100,1274,"right"),("AML",140,1227,"right"),("PDAC",188,1204,"right"),
                ("NSCLC",193.5,1184,"right"),("Colorectal",295,1181,"left"),("Renal",346,1197,"left")]
for t, x, y, a in group_labels:
    put(bot, x, PY(y), t, 15.5, a)

gene_labels = [("OLIG1",447,1197,"right"),("OLIG2",447,1211,"right"),("SOX10",449,1224,"right"),
               ("HNF1B",455,1275,"left"),("MSX1",455,1289,"left"),("DLX6",455,1303,"left"),
               ("HIF1A",467,1397,"left"),("RUNX1",467,1411,"left"),("HEY1",467,1424,"left"),
               ("HNF4A",399,1491,"left"),("NANOG",399,1504,"left"),
               ("PHOX2A",314,1532,"center"),("E2F2",314,1546,"center"),
               ("MSC",224.5,1520,"center"),("ZEB1",224.5,1534,"center"),("ZEB2",224.5,1547,"center"),
               ("GRHL3",148.5,1475,"center"),("PAX9",148.5,1489,"center"),("NEUROG1",132,1404,"right"),
               ("TWIST1",130,1323,"right"),("RUNX2",130,1337,"right"),("IRF7",149.5,1267,"right"),("DLX2",149.5,1280,"right"),
               ("BCL6",184,1219,"right"),("MAF",184,1233,"right"),("IKZF1",229,1205,"right"),("HOXC11",256,1184,"right"),
               ("SP6",285,1181,"right"),("TP73",337,1197,"right")]
for t, x, y, a in gene_labels:
    put(bot, x, PY(y), t, 13.5, a, italic=True, color="#333333")

# legend box
bot.quad(left=[573], right=[1059], top=[PY(1297)], bottom=[PY(1457)], fill_color=None, line_color="#444444", line_width=1.6)
put(bot, 696.5, PY(1318), "Category", 18.5, "center")
put(bot, 899, PY(1318), "Cancer", 18.5, "center")

cat_edges = np.linspace(655, 734, len(category_names) + 1)
bot.quad(left=cat_edges[:-1], right=cat_edges[1:], top=[PY(1329)] * 4, bottom=[PY(1349)] * 4, fill_color=category_colors, line_color=None)
can_edges = np.linspace(749, 1045, len(cancer_names) + 1)
bot.quad(left=can_edges[:-1], right=can_edges[1:], top=[PY(1329)] * 15, bottom=[PY(1349)] * 15, fill_color=cancer_colors, line_color=None)
for names, e in ((category_names, cat_edges), (cancer_names, can_edges)):
    for i, n in enumerate(names):
        put(bot, (e[i] + e[i + 1]) / 2 + 5, PY(1355), n, 16, "right", angle=math.pi / 4, color="#222222")

open("out.html", "w").write(file_html(column(top, heat, bot, spacing=0), INLINE))
